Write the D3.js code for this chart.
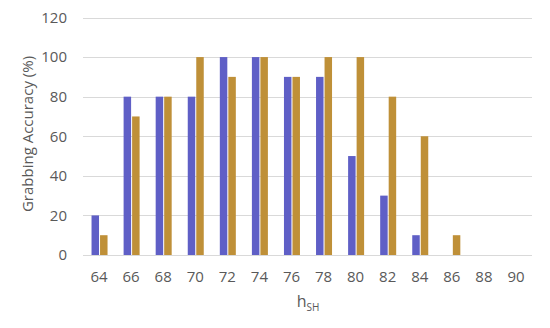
<!DOCTYPE html>
<html><head><meta charset="utf-8">
<script src="https://cdn.jsdelivr.net/npm/d3@7"></script>
<style>body{margin:0;background:#fff}</style>
</head><body>
<svg id="c" width="550" height="328"></svg>
<script>
const categories = ["64","66","68","70","72","74","76","78","80","82","84","86","88","90"];
const seriesNames = ["A","B"];
const seriesA = [20,80,80,80,100,100,90,90,50,30,10,0,0,0];
const seriesB = [10,70,80,100,90,100,90,100,100,80,60,10,0,0];
const yTicks = [0,20,40,60,80,100,120];
const colors = ["#5f5fc6","#bf9038"];

const svg = d3.select("#c");
const m = {l:83, r:532, t:17.5, b:255};
const x = d3.scaleBand().domain(categories).range([m.l, m.r]);
const x1 = d3.scaleBand().domain(seriesNames).range([-7.5, 8.5]).paddingInner(0.12);
const y = d3.scaleLinear().domain([0,120]).range([m.b, m.t]);
const font = "'Open Sans', 'Segoe UI', sans-serif";

svg.append("g").selectAll("line").data(yTicks).join("line")
  .attr("x1", m.l).attr("x2", m.r)
  .attr("y1", d=>Math.round(y(d))+0.5).attr("y2", d=>Math.round(y(d))+0.5)
  .attr("stroke", "#d9d9d9").attr("stroke-width", 1);

const data = [seriesA, seriesB];
data.forEach((vals, si) => {
  svg.append("g").selectAll("rect").data(vals).join("rect")
    .attr("x", (d,i)=> x(categories[i]) + x.bandwidth()/2 + x1(seriesNames[si]))
    .attr("width", x1.bandwidth())
    .attr("y", d=>y(d)).attr("height", d=>y(0)-y(d))
    .attr("fill", colors[si]);
});

svg.append("g").selectAll("text").data(yTicks).join("text")
  .attr("x", 67).attr("y", d=>y(d)).attr("dy", "0.35em")
  .attr("text-anchor", "end").attr("font-family", font).attr("font-size", 15)
  .attr("fill", "#595959").text(d=>d);

svg.append("g").selectAll("text").data(categories).join("text")
  .attr("x", d=>x(d)+x.bandwidth()/2).attr("y", 277).attr("dy", "0.35em")
  .attr("text-anchor", "middle").attr("font-family", font).attr("font-size", 15)
  .attr("fill", "#595959").text(d=>d);

const xt = svg.append("text").attr("x", 308).attr("y", 307)
  .attr("text-anchor", "middle").attr("font-family", font).attr("font-size", 16)
  .attr("fill", "#595959");
xt.append("tspan").text("h");
xt.append("tspan").attr("font-size", 10).attr("dy", 4).text("SH");

svg.append("text").attr("transform", "translate(28,134) rotate(-90)")
  .attr("dy", "0.35em").attr("text-anchor", "middle").attr("font-family", font)
  .attr("font-size", 15).attr("fill", "#595959").text("Grabbing Accuracy (%)");
</script>
</body></html>
